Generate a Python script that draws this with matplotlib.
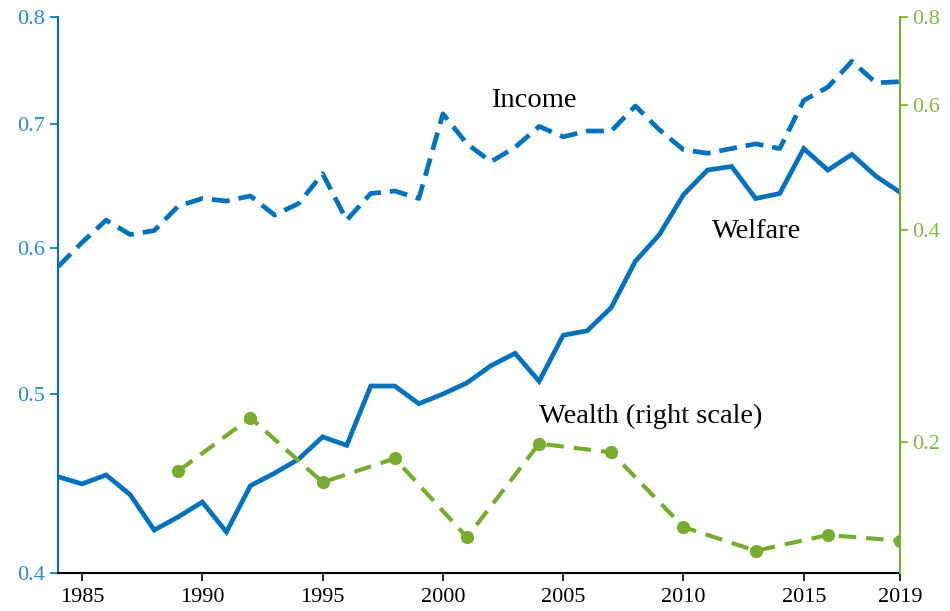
import matplotlib
matplotlib.use("Agg")
import matplotlib.pyplot as plt
from matplotlib.ticker import FixedLocator, FixedFormatter, NullLocator

years = list(range(1984, 2020))

welfare = [0.451, 0.447, 0.452, 0.441, 0.422, 0.429, 0.437, 0.421, 0.446, 0.453,
           0.461, 0.474, 0.469, 0.505, 0.505, 0.494, 0.500, 0.507, 0.518, 0.526,
           0.508, 0.538, 0.541, 0.557, 0.590, 0.610, 0.641, 0.661, 0.664, 0.638,
           0.642, 0.679, 0.661, 0.674, 0.656, 0.643]

income = [0.586, 0.604, 0.621, 0.610, 0.613, 0.632, 0.638, 0.636, 0.640, 0.625,
          0.634, 0.658, 0.621, 0.642, 0.644, 0.638, 0.709, 0.683, 0.668, 0.680,
          0.698, 0.689, 0.694, 0.694, 0.716, 0.695, 0.678, 0.675, 0.679, 0.683,
          0.679, 0.721, 0.733, 0.757, 0.737, 0.738]

wealth_years = [1989, 1992, 1995, 1998, 2001, 2004, 2007, 2010, 2013, 2016, 2019]
wealth = [0.182, 0.2165, 0.1754, 0.1896, 0.1466, 0.199, 0.1934, 0.1516, 0.1403,
          0.1477, 0.145]

left_ticks = [0.4, 0.5, 0.6, 0.7, 0.8]
right_ticks = [0.2, 0.4, 0.6, 0.8]
x_ticks = [1985, 1990, 1995, 2000, 2005, 2010, 2015, 2019]

BLUE = "#0072BD"
GREEN = "#77AC30"

plt.rcParams["font.family"] = ["Liberation Serif", "DejaVu Serif"]

fig = plt.figure(figsize=(9.5, 6.11), dpi=100)
ax = fig.add_axes([58 / 950, 38 / 611, 842 / 950, 556 / 611])
ax2 = ax.twinx()

ax.plot(years, welfare, "-", color=BLUE, lw=3.4, solid_joinstyle="miter")
ax.plot(years, income, "--", color=BLUE, lw=3.4, dashes=(3.8, 1.9))
ax2.plot(wealth_years, wealth, "--", color=GREEN, lw=3.0, dashes=(4.2, 2.4),
         marker="o", markersize=8.5)

ax.set_yscale("log")
ax2.set_yscale("log")
ax.set_xlim(1984, 2019)
ax.set_ylim(0.4, 0.8)
ax2.set_ylim(0.1305, 0.8)

ax.yaxis.set_major_locator(FixedLocator(left_ticks))
ax.yaxis.set_major_formatter(FixedFormatter([str(t) for t in left_ticks]))
ax.yaxis.set_minor_locator(NullLocator())
ax2.yaxis.set_major_locator(FixedLocator(right_ticks))
ax2.yaxis.set_major_formatter(FixedFormatter([str(t) for t in right_ticks]))
ax2.yaxis.set_minor_locator(NullLocator())
ax.set_xticks(x_ticks)
ax.set_xticklabels([str(t) for t in x_ticks])

for a in (ax, ax2):
    a.spines["top"].set_visible(False)
ax.spines["right"].set_visible(False)
ax2.spines["left"].set_visible(False)
ax2.spines["bottom"].set_visible(False)
ax.spines["left"].set_color(BLUE)
ax.spines["left"].set_linewidth(1.5)
ax2.spines["right"].set_color(GREEN)
ax2.spines["right"].set_linewidth(1.5)
ax.spines["bottom"].set_linewidth(1.5)

ax.tick_params(axis="y", colors=BLUE, labelsize=16, length=6, width=1.2, pad=3)
ax.tick_params(axis="x", colors="black", labelsize=16, length=6, width=1.2, pad=5)
ax2.tick_params(axis="y", colors=GREEN, labelsize=16, length=6, width=1.2, pad=3)
for lbl in ax.get_yticklabels():
    lbl.set_color("#2a8ad6")
for lbl in ax2.get_yticklabels():
    lbl.set_color("#86b548")

ax.text(2002.0, 0.721, "Income", fontsize=20.5, va="center", ha="left")
ax.text(2011.2, 0.612, "Welfare", fontsize=20.5, va="center", ha="left")
ax.text(2004.0, 0.486, "Wealth (right scale)", fontsize=20.5, va="center", ha="left")

fig.savefig("out.png", dpi=100)
